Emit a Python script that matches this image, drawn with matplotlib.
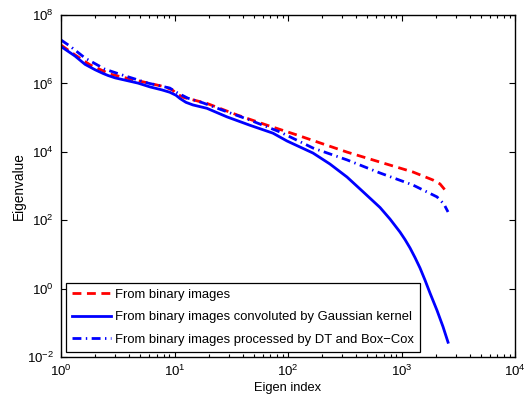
import matplotlib
matplotlib.use("Agg")
import matplotlib.pyplot as plt
from matplotlib.ticker import FixedLocator, LogFormatterMathtext, LogLocator, NullLocator

plt.rcParams["font.family"] = ["Liberation Sans", "DejaVu Sans"]
plt.rcParams["mathtext.fontset"] = "custom"
plt.rcParams["mathtext.rm"] = "Liberation Sans"
plt.rcParams["mathtext.it"] = "Liberation Sans:italic"
plt.rcParams["mathtext.bf"] = "Liberation Sans:bold"

# Eigenvalue spectra (index, eigenvalue)
idx_binary = [1, 1.33, 1.8, 2.7, 4.05, 6.08, 8.25, 9.6, 10.5, 12.0, 14.6, 19.3, 35.5,
              65.3, 120, 166, 331, 647, 1260, 1890, 2183, 2510]
val_binary = [1.32e7, 6.8e6, 3.5e6, 1.88e6, 1.35e6, 1.0e6, 7.9e5, 6.4e5, 4.9e5,
              3.9e5, 3.3e5, 2.6e5, 1.2e5, 6.0e4, 3.1e4, 2.14e4, 9.8e3, 5.0e3,
              2.57e3, 1.5e3, 1.15e3, 660]

idx_gauss = [1, 1.33, 1.63, 2.0, 2.35, 2.6, 3.0, 4.77, 6.08, 7.76, 9.1, 10.3, 11.2,
             12.6, 14.5, 19.3, 29, 46, 73.8, 98, 127.6, 166, 234, 331, 458, 647,
             792, 970, 1075, 1189, 1315, 1456, 1610, 1783, 2056, 2321, 2570]
val_gauss = [1.2e7, 6.3e6, 3.6e6, 2.5e6, 1.95e6, 1.7e6, 1.45e6, 1.02e6, 7.9e5,
             6.45e5, 5.5e5, 4.5e5, 3.6e5, 2.8e5, 2.35e5, 1.87e5, 1.05e5, 6.0e4,
             3.5e4, 2.07e4, 1.38e4, 9.2e3, 4.4e3, 1.83e3, 680, 235, 108, 45, 27,
             15.4, 8.1, 4.0, 1.78, 0.74, 0.23, 0.077, 0.027]

idx_dtbc = [1, 1.2, 1.63, 2.44, 3.45, 5.84, 9.1, 10.6, 13.1, 17.8, 26.2, 46, 85,
            166, 331, 647, 1260, 2056, 2367, 2570]
val_dtbc = [1.86e7, 1.23e7, 5.5e6, 2.6e6, 1.77e6, 1.02e6, 7.3e5, 5.3e5, 3.7e5,
            2.7e5, 1.67e5, 8.5e4, 3.8e4, 1.29e4, 5.8e3, 2.4e3, 1.07e3, 480, 295, 174]

labels = ["From binary images",
          "From binary images convoluted by Gaussian kernel",
          "From binary images processed by DT and Box\u2212Cox"]

fig = plt.figure(figsize=(5.31, 3.98), dpi=100)
ax = fig.add_axes([61 / 531, 1 - 357 / 398, 454 / 531, 342 / 398])

ax.loglog(idx_binary, val_binary, color="#ff0000", lw=2, linestyle=(0, (3.2, 2.0)), label=labels[0])
ax.loglog(idx_gauss, val_gauss, color="#0000ff", lw=2, linestyle="-", label=labels[1])
ax.loglog(idx_dtbc, val_dtbc, color="#0000ff", lw=2, linestyle=(0, (3.2, 1.6, 0.5, 1.6)), label=labels[2])

ax.set_xlim(1, 1e4)
ax.set_ylim(1e-2, 1e8)

ax.xaxis.set_major_locator(FixedLocator([1, 10, 100, 1000, 10000]))
ax.xaxis.set_minor_locator(LogLocator(base=10, subs=range(2, 10), numticks=20))
ax.xaxis.set_major_formatter(LogFormatterMathtext())
ax.yaxis.set_major_locator(FixedLocator([1e-2, 1, 1e2, 1e4, 1e6, 1e8]))
ax.yaxis.set_minor_locator(NullLocator())
ax.yaxis.set_major_formatter(LogFormatterMathtext())

ax.tick_params(which="both", direction="in", top=True, right=True, labelsize=9.5, width=0.8)
ax.tick_params(which="major", length=4.5, pad=5)
ax.tick_params(which="minor", length=2.5)
for sp in ax.spines.values():
    sp.set_linewidth(1.0)

ax.set_xlabel("Eigen index", fontsize=9.3, labelpad=2)
ax.set_ylabel("Eigenvalue", fontsize=9.8, labelpad=1)

leg = ax.legend(loc="lower left", bbox_to_anchor=(0.011, 0.015), borderaxespad=0,
                fontsize=9.4, handlelength=3.0, handletextpad=0.3, labelspacing=0.8,
                borderpad=0.45, fancybox=False, framealpha=1)
leg.get_frame().set_edgecolor("black")
leg.get_frame().set_linewidth(0.9)

fig.savefig("out.png", dpi=100)
